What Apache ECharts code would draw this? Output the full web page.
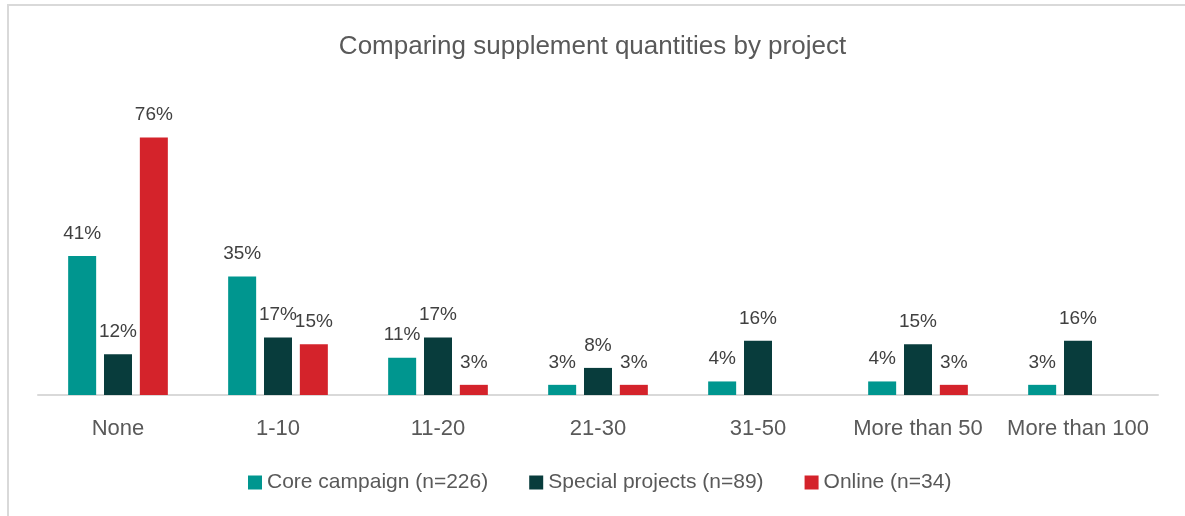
<!DOCTYPE html>
<html>
<head>
<meta charset="utf-8">
<script src="https://cdn.jsdelivr.net/npm/echarts@6/dist/echarts.min.js"></script>
<style>
html,body{margin:0;padding:0;background:#fff;}
#frame{position:absolute;left:7px;top:4px;right:-5px;bottom:-5px;border-left:2px solid #d9d9d9;border-top:2px solid #d9d9d9;}
#chart{position:absolute;left:0;top:0;width:1185px;height:516px;}
</style>
</head>
<body>
<div id="frame"></div>
<div id="chart"></div>
<script>
const categories = ["None", "1-10", "11-20", "21-30", "31-50", "More than 50", "More than 100"];
const seriesNames = ["Core campaign (n=226)", "Special projects (n=89)", "Online (n=34)"];
const coreCampaign = [41, 35, 11, 3, 4, 4, 3];
const specialProjects = [12, 17, 17, 8, 16, 15, 16];
const online = [76, 15, 3, 3, null, 3, null];
const colors = ["#00968F", "#083C3C", "#D4232B"];

const chart = echarts.init(document.getElementById('chart'));
const font = "'Liberation Sans', Arial, sans-serif";
const mk = (name, data, color) => ({
  name: name,
  type: 'bar',
  data: data,
  barWidth: 28,
  barGap: '28%',
  itemStyle: { color: color },
  label: {
    show: true,
    position: 'top',
    distance: 13,
    formatter: p => p.value == null ? '' : p.value + '%',
    color: '#404040',
    fontSize: 19,
    fontFamily: font
  }
});
chart.setOption({
  animation: false,
  title: {
    text: 'Comparing supplement quantities by project',
    left: 'center',
    top: 29,
    textStyle: { color: '#595959', fontSize: 26, fontWeight: 'normal', fontFamily: font }
  },
  legend: {
    left: 243,
    top: 467,
    itemWidth: 14,
    itemHeight: 14,
    itemGap: 41,
    icon: 'rect',
    textStyle: { color: '#595959', fontSize: 21, fontFamily: font },
    data: seriesNames
  },
  grid: { left: 38, right: 27, top: 124, bottom: 121 },
  xAxis: {
    type: 'category',
    data: categories,
    axisLine: { lineStyle: { color: '#d9d9d9', width: 2 } },
    axisTick: { show: false },
    axisLabel: { color: '#595959', fontSize: 22, fontFamily: font, margin: 23, interval: 0 }
  },
  yAxis: {
    type: 'value',
    min: 0,
    max: 80,
    show: false,
    splitLine: { show: false }
  },
  series: [
    mk(seriesNames[0], coreCampaign, colors[0]),
    mk(seriesNames[1], specialProjects, colors[1]),
    mk(seriesNames[2], online, colors[2])
  ]
});
</script>
</body>
</html>
